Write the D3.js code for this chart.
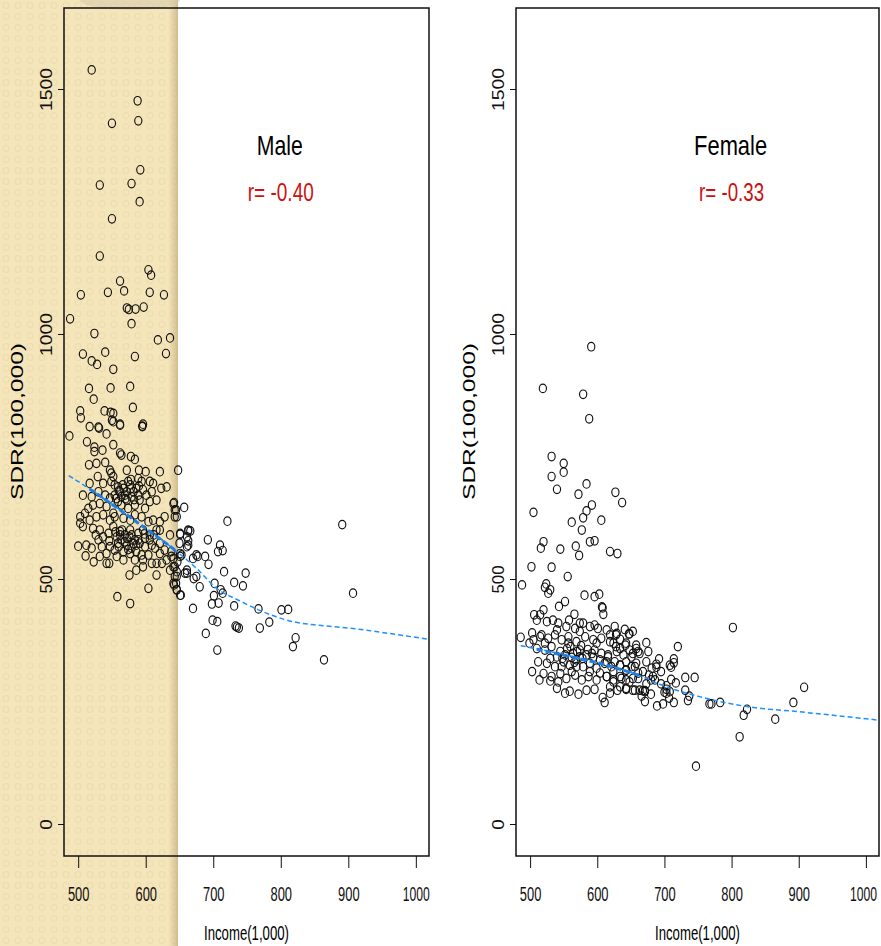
<!DOCTYPE html>
<html>
<head>
<meta charset="utf-8">
<script src="https://cdn.jsdelivr.net/npm/d3@7"></script>
<style>
  body { margin: 0; background: #fff; }
  svg { display: block; }
  text { font-family: "Liberation Sans", Arial, sans-serif; }
</style>
</head>
<body>
<svg id="chart" width="881" height="946"></svg>
<script>
// tick values shared by both panels
const xTicks = [500, 600, 700, 800, 900, 1000];
const yTicks = [0, 500, 1000, 1500];

// Male: [income, SDR]
const malePoints = [
  [520,1539],[588,1476],[550,1430],[589,1435],[592,1335],[532,1304],[579,1307],[591,1270],[550,1235],
  [532,1159],[604,1131],[608,1120],[562,1108],[568,1088],[544,1085],[504,1080],[606,1085],[627,1080],
  [572,1053],[575,1050],[585,1051],[597,1055],[488,1031],[579,1021],[524,1001],[618,988],[636,992],
  [507,959],[520,945],[528,938],[540,963],[584,954],[630,960],[552,928],[516,889],[523,867],[548,890],
  [577,893],[581,850],[503,843],[504,829],[539,843],[548,840],[552,838],[550,824],[517,811],[530,810],
  [562,816],[596,816],[595,811],
  [487,792],[531,808],[542,796],[552,821],[562,814],[595,812],[513,780],[524,769],[524,760],[536,763],
  [552,774],[562,757],[564,753],[578,750],[584,744],[516,733],[527,736],[540,738],[547,722],[552,709],
  [549,716],[572,722],[590,722],[600,719],[621,719],[589,705],[578,703],[594,699],[606,699],[611,695],
  [648,722],[529,709],[517,695],[537,695],[549,699],[559,688],[567,685],[572,678],[577,692],[586,685],
  [596,682],[609,678],[623,685],[631,688],[507,671],[520,668],[530,678],[540,671],[554,671],[559,658],
  [564,668],[572,661],[579,668],[591,661],[606,658],[616,661],[641,654],[643,641],[522,651],[515,644],
  [542,648],[503,627],[510,634],[517,620],[527,627],[537,631],[547,620],[554,627],[567,624],[577,620],
  [584,631],[594,627],[604,617],[611,620],[621,617],[628,627],[646,627],[503,614],[507,607],[522,603],
  [532,600],[545,593],[552,607],[562,597],[569,590],[577,600],[589,593],[596,600],[606,590],[616,600],
  [621,600],[636,590],[651,593],[663,600],[661,586],[500,567],[512,569],[520,563],[535,566],[547,566],
  [559,573],[572,569],[579,563],[586,569],[599,566],[609,569],[628,559],[638,556],[650,573],[663,569],
  [511,547],[523,535],[542,532],[546,532],[557,546],[567,539],[577,552],[596,539],[604,549],[616,532],
  [624,532],[631,539],[641,542],[651,546],[643,525],[576,508],[586,518],[596,525],[616,508],[636,518],
  [646,505],[641,491],[646,478],[651,467],[604,481],[661,518],[658,512],[558,464],[577,450],[670,440],
  [675,505],[670,542],[675,549],
  [554,692],[562,678],[569,671],[574,699],[582,678],[564,651],[574,644],[584,651],[552,634],[599,644],
  [532,654],[547,665],[589,671],[601,671],[557,586],[564,580],[572,583],[579,590],[584,580],[591,573],
  [554,559],[567,556],[586,556],[594,549],[537,586],[530,580],[606,580],[614,563],[621,573],[599,583],
  [542,552],[532,546],[584,539],[609,532],[621,552],
  [560,680],[566,692],[570,664],[578,684],[556,664],[590,690],[583,662],[562,590],[569,576],[576,586],
  [582,572],[560,566],[589,580],[574,560],[565,600],[555,596],[598,592],[546,578],[612,590],[526,590],
  [645,491],[643,505],[647,535],[651,552],[653,549],[641,525],[646,515],[638,546],[642,488],[646,478],
  [642,656],[657,646],[645,641],[643,627],[721,618],[891,611],[651,591],[663,598],[666,598],[663,578],
  [661,566],[692,580],[710,569],[707,556],[714,558],[677,546],[688,546],[693,530],[661,512],[671,501],
  [680,484],[702,491],[716,515],[748,512],[731,493],[744,486],[711,478],[714,471],[701,466],[698,449],
  [708,451],[731,445],[652,467],[767,439],[801,437],[811,438],[699,416],[706,413],[733,404],[738,400],
  [735,402],[783,412],[769,400],[689,389],[822,380],[818,362],[706,355],[864,335],[907,471]
];

// Female: [income, SDR]
const femalePoints = [
  [591,974],[519,889],[579,877],[588,827],[532,750],[550,736],[550,718],[532,709],[540,683],[584,694],
  [572,673],[627,677],[637,656],[592,651],[584,639],[579,625],[606,620],[562,616],[577,600],[505,636],
  [520,576],[516,563],[545,561],[568,567],[573,548],[589,576],[596,578],[619,556],[630,552],[502,525],
  [532,524],[556,505],[488,488],[524,490],[522,483],[530,478],[527,471],[581,467],[596,464],[603,469],
  [607,443],[608,441],[609,428],[506,427],[515,427],[520,437],[543,444],[552,454],[596,406],[534,416],
  [486,381],[499,369],[503,390],[517,386],[558,416],[574,410],[566,428],[628,386],[648,388],
  [510,416],[525,413],[542,410],[554,403],[567,399],[579,410],[589,403],[601,399],[614,396],[626,403],
  [641,397],[653,393],[505,376],[515,382],[527,379],[537,386],[547,376],[557,382],[569,372],[582,382],
  [594,376],[606,379],[619,372],[634,377],[643,369],[658,365],[673,370],[510,358],[522,355],[532,362],
  [545,352],[555,358],[564,348],[574,355],[584,345],[596,355],[606,348],[616,341],[629,352],[639,345],
  [651,341],[663,348],[676,352],[658,358],[512,331],[525,328],[537,321],[550,331],[559,324],[569,335],
  [579,321],[589,328],[599,318],[611,328],[621,321],[634,324],[643,314],[656,321],[668,311],[681,318],
  [695,311],[520,307],[532,301],[545,307],[554,297],[567,304],[577,294],[587,301],[599,294],[614,301],
  [624,290],[636,297],[648,290],[661,297],[673,286],[686,294],[695,286],[540,277],[552,267],[584,273],
  [619,267],[540,341],[552,345],[569,321],[530,338],[589,311],[604,335],[624,311],[562,311],[547,321],
  [574,341],[599,369],[557,369],[522,369],[540,396],[574,393],[634,358],[643,331],[673,331],[683,301],
  [503,311],[514,294],[530,292],[542,290],[559,271],[572,265],[596,275],[608,258],[630,273],[643,275],
  [656,273],[671,272],[680,265],[703,275],[703,267],[708,270],
  [619,386],[629,389],[624,369],[628,362],[642,365],[648,355],[653,348],[661,352],[616,345],[614,331],
  [626,331],[634,324],[643,314],[651,321],[658,328],[604,308],[614,301],[624,294],[634,301],[643,294],
  [653,297],[661,308],[619,280],[634,280],[643,277],[653,273],[663,273],[671,270],
  [562,340],[570,352],[578,338],[586,356],[594,340],[560,362],[548,338],[576,364],[592,348],[566,330],
  [802,401],[647,388],[720,362],[714,337],[692,337],[688,326],[688,320],[708,324],[714,329],[710,320],
  [677,304],[680,294],[731,299],[745,299],[710,295],[717,288],[703,282],[700,269],[731,273],[737,261],
  [735,252],[707,257],[714,248],[689,241],[698,245],[668,272],[666,261],[671,250],[767,245],[770,245],
  [783,248],[823,234],[818,222],[865,214],[892,248],[908,279],[812,178],[747,118],[611,248]
];

// smoothed trend lines
const maleLoess = [[486,711],[530,672],[572,631],[636,567],[675,522],[705,481],[740,455],[767,437],
  [818,413],[860,405],[907,399],[960,389],[1019,377]];
const femaleLoess = [[486,364],[604,328],[653,308],[703,280],[752,260],[826,239],[901,229],[1019,212]];

const panels = [
  { title: "Male", r: "r= -0.40", points: malePoints, loess: maleLoess, dense: [517, 648],
    left: 64, right: 429, titleLen: 46, rLen: 66, lastShift: 0 },
  { title: "Female", r: "r= -0.33", points: femalePoints, loess: femaleLoess, dense: [510, 665],
    left: 516, right: 879, titleLen: 73, rLen: 65, lastShift: -3 }
];

const plotTop = 8, plotBottom = 856;
const svg = d3.select("#chart");

// beige textured strip on the left
const defs = svg.append("defs");
const pat = defs.append("pattern").attr("id", "tex")
  .attr("width", 12).attr("height", 11).attr("patternUnits", "userSpaceOnUse");
pat.append("rect").attr("width", 12).attr("height", 11).attr("fill", "#f5e5bb");
pat.append("circle").attr("cx", 6).attr("cy", 5.5).attr("r", 3)
  .attr("fill", "none").attr("stroke", "#ecdbab").attr("stroke-width", 1);
const grad = defs.append("linearGradient").attr("id", "edge");
grad.append("stop").attr("offset", "0%").attr("stop-color", "#d6c296").attr("stop-opacity", 0);
grad.append("stop").attr("offset", "100%").attr("stop-color", "#cbb68a").attr("stop-opacity", 0.9);

svg.append("rect").attr("x", 0).attr("y", 0).attr("width", 178).attr("height", 946).attr("fill", "url(#tex)");
svg.append("rect").attr("x", 168).attr("y", 0).attr("width", 10).attr("height", 946).attr("fill", "url(#edge)");
svg.append("ellipse").attr("cx", 130).attr("cy", 0).attr("rx", 50).attr("ry", 10)
  .attr("fill", "#d9cbaa").attr("opacity", 0.6);

const y = d3.scaleLinear().domain([-65.3, 1665.3]).range([plotBottom, plotTop]);

// straight-line reading of the trend curve at income v
function trendAt(loess, v) {
  const i = d3.bisector(d => d[0]).right(loess, v);
  const a = loess[Math.max(0, i - 1)], b = loess[Math.min(loess.length - 1, i)];
  const t = b[0] === a[0] ? 0 : (v - a[0]) / (b[0] - a[0]);
  return [v, a[1] + t * (b[1] - a[1])];
}

panels.forEach(p => {
  const x = d3.scaleLinear().domain([479, 1019.5]).range([p.left, p.right]);
  const g = svg.append("g");

  // x axis
  const xAxis = g.append("g").attr("transform", `translate(0,${plotBottom})`)
    .call(d3.axisBottom(x).tickValues(xTicks).tickSize(12).tickFormat(d3.format("d")));
  xAxis.select(".domain").remove();
  xAxis.selectAll(".tick line").attr("stroke", "#111");
  xAxis.selectAll("text")
    .attr("y", 44.7).attr("dy", null)
    .attr("x", d => d === 1000 ? p.lastShift : 0)
    .attr("font-size", 20).attr("fill", "#111")
    .attr("textLength", d => String(d).length > 3 ? 27 : 21.5)
    .attr("lengthAdjust", "spacingAndGlyphs");

  // y axis
  const yAxis = g.append("g").attr("transform", `translate(${p.left},0)`)
    .call(d3.axisLeft(y).tickValues(yTicks).tickSize(6).tickFormat(d3.format("d")));
  yAxis.select(".domain").remove();
  yAxis.selectAll(".tick line").attr("stroke", "#111");
  yAxis.selectAll("text")
    .attr("x", null).attr("dy", null)
    .attr("transform", "translate(-12,0) rotate(-90)")
    .attr("text-anchor", "middle")
    .attr("font-size", 16.5).attr("fill", "#111")
    .attr("textLength", d => ({1: 10.5, 3: 28, 4: 43})[String(d).length])
    .attr("lengthAdjust", "spacingAndGlyphs");

  // axis titles
  g.append("text")
    .attr("x", (p.left + p.right) / 2).attr("y", 940)
    .attr("text-anchor", "middle").attr("font-size", 20)
    .attr("textLength", 85).attr("lengthAdjust", "spacingAndGlyphs")
    .text("Income(1,000)");
  g.append("text")
    .attr("transform", `translate(${p.left - 41},421.5) rotate(-90)`)
    .attr("text-anchor", "middle").attr("font-size", 16)
    .attr("textLength", 157).attr("lengthAdjust", "spacingAndGlyphs")
    .text("SDR(100,000)");

  // points
  g.append("g").selectAll("ellipse")
    .data(p.points)
    .join("ellipse")
    .attr("cx", d => x(d[0]))
    .attr("cy", d => y(d[1]))
    .attr("rx", 3.6).attr("ry", 4.3)
    .attr("fill", "none").attr("stroke", "#111").attr("stroke-width", 1.15);

  // trend line, drawn heavier where the points are dense
  const line = d3.line().x(d => x(d[0])).y(d => y(d[1])).curve(d3.curveMonotoneX);
  g.append("path").attr("d", line(p.loess))
    .attr("fill", "none").attr("stroke", "#1e90ff")
    .attr("stroke-width", 1.5).attr("stroke-dasharray", "5,3");
  g.append("path")
    .attr("d", line(d3.range(p.dense[0], p.dense[1] + 1, 4).map(v => trendAt(p.loess, v))))
    .attr("fill", "none").attr("stroke", "#1e7fe6")
    .attr("stroke-width", 3).attr("stroke-dasharray", "6,3");

  // box
  g.append("rect")
    .attr("x", p.left).attr("y", plotTop)
    .attr("width", p.right - p.left).attr("height", plotBottom - plotTop)
    .attr("fill", "none").attr("stroke", "#111").attr("stroke-width", 1.5);

  // title and correlation
  g.append("text")
    .attr("x", x(800) - 1).attr("y", 155)
    .attr("text-anchor", "middle").attr("font-size", 28)
    .attr("textLength", p.titleLen).attr("lengthAdjust", "spacingAndGlyphs")
    .text(p.title);
  g.append("text")
    .attr("x", x(800)).attr("y", 200.7)
    .attr("text-anchor", "middle").attr("font-size", 26).attr("fill", "#cc1111")
    .attr("textLength", p.rLen).attr("lengthAdjust", "spacingAndGlyphs")
    .text(p.r);
});
</script>
</body>
</html>
